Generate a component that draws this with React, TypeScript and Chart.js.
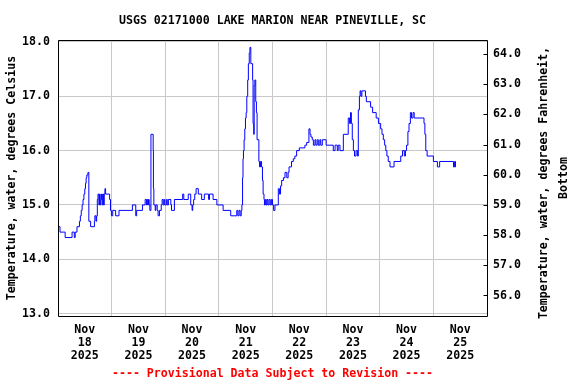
import { useEffect, useRef } from 'react';
import { Chart, registerables } from 'chart.js';

Chart.register(...registerables);

const TITLE = 'USGS 02171000 LAKE MARION NEAR PINEVILLE, SC';
const LEFT_TITLE = 'Temperature, water, degrees Celsius';
const RIGHT_TITLE = ['Temperature, water, degrees Fahrenheit,', 'Bottom'];
const CAPTION = '---- Provisional Data Subject to Revision ----';

const MONTH = 'Nov';
const YEAR = '2025';
const dayLabels = ['18', '19', '20', '21', '22', '23', '24', '25'];

// hours since Nov 18 00:00, value in deg C (value holds until next point)
const hours = [
  0, 0.9, 3.2, 6.3, 7.3, 7.7, 8.5, 9.6, 10.0, 10.4, 10.8, 11.2, 11.6, 12.0, 12.3, 12.6, 12.9, 13.4, 13.8,
  14.6, 16.3, 16.5, 17.0, 17.3, 17.6, 17.9, 18.3, 18.6, 18.9, 19.2, 19.5, 19.8, 20.1, 20.4, 20.7, 21.0, 21.3,
  23.1, 23.5, 23.9, 24.5, 25.8, 27.3, 33.3, 34.8, 35.2, 37.8, 39.0, 39.6, 39.9, 40.2, 40.5, 40.8, 41.1, 41.6,
  42.6, 42.7, 42.9, 43.5, 43.8, 44.4, 44.8, 45.4, 46.2, 46.6, 47.1, 47.5, 47.8, 48.5, 48.9, 49.4, 50.5, 50.8,
  52.1, 55.8, 56.3, 58.3, 59.4, 60.0, 60.3, 60.7, 61.2, 61.8, 62.8, 64.3, 65.5, 67.4, 67.8, 69.4, 71.1, 73.9,
  77.3, 80.0, 80.5, 81.0, 81.5, 82.0, 82.3, 82.6, 82.8, 83.0, 83.3, 83.6, 83.9, 84.2, 84.5, 84.9, 85.2, 85.6,
  85.9, 86.3, 87.1, 87.3, 87.6, 87.8, 88.1, 88.5, 88.8, 89.1, 89.9, 90.2, 90.6, 91.1, 91.5, 91.8, 92.2, 92.4,
  92.8, 93.2, 93.6, 94.0, 94.5, 95.0, 95.5, 96.0, 96.5, 97.1, 98.6, 99.1, 99.6, 100.1, 100.9, 101.6, 102.4,
  103.0, 103.4, 104.5, 105.3, 106.0, 106.8, 108.0, 110.5, 111.3, 112.3, 112.8, 113.2, 113.8, 114.3, 115.0,
  115.4, 116.0, 116.5, 117.2, 117.6, 118.3, 120.0, 123.2, 124.0, 125.0, 125.4, 126.2, 127.7, 129.9, 130.5,
  130.9, 131.3, 131.7, 132.2, 132.7, 133.4, 134.0, 134.4, 134.9, 135.2, 135.6, 136.0, 137.6, 138.0, 139.9,
  140.8, 142.4, 143.4, 144.4, 145.0, 145.6, 146.2, 146.7, 147.2, 147.8, 148.6, 150.4, 153.4, 154.2, 155.0,
  155.5, 156.0, 156.6, 157.1, 157.7, 158.2, 158.9, 159.4, 163.8, 164.2, 164.6, 165.2, 168.0, 169.8, 170.8,
  177.0, 177.5, 177.9, 178.1,
];

const tempC = [
  14.7, 14.6, 14.5, 14.4, 14.5, 14.4, 14.5, 14.6, 14.7, 14.8, 14.9, 15.0, 15.1, 15.2, 15.3, 15.4, 15.5, 15.55, 15.6,
  14.7, 14.6, 14.7, 14.8, 14.7, 14.8, 15.1, 15.2, 15.0, 15.2, 15.0, 15.1, 15.2, 15.0, 15.2, 15.0, 15.2, 15.3,
  15.2, 15.1, 14.9, 14.8, 14.9, 14.8, 14.9, 15.0, 14.8, 14.9, 15.0, 15.1, 15.0, 15.1, 15.0, 15.1, 15.0, 14.9,
  16.3, 16.0, 15.3, 15.0, 14.9, 15.0, 14.9, 14.8, 14.9, 15.0, 15.1, 15.0, 15.1, 15.0, 15.1, 15.0, 15.1, 15.0,
  14.9, 15.1, 15.2, 15.1, 15.2, 15.0, 14.9, 15.0, 15.1, 15.2, 15.3, 15.2, 15.1, 15.2, 15.1, 15.2, 15.1, 15.0,
  14.9, 14.8, 14.9, 14.8, 14.9, 14.8, 14.9, 15.0, 15.5, 15.85, 16.0, 16.2, 16.4, 16.6, 16.7, 17.0, 17.3, 17.6,
  17.8, 17.9, 17.6, 17.3, 16.5, 16.3, 17.2, 17.3, 16.9, 16.7, 16.2, 15.8, 15.7, 15.8, 15.7, 15.45, 15.2, 15.1,
  15.0, 15.1, 15.0, 15.1, 15.0, 15.1, 15.0, 15.1, 15.0, 14.9, 15.0, 15.3, 15.2, 15.35, 15.45, 15.5, 15.6,
  15.5, 15.6, 15.7, 15.8, 15.85, 15.9, 16.0, 16.05, 16.1, 16.15, 16.4, 16.3, 16.25, 16.2, 16.1,
  16.2, 16.1, 16.2, 16.1, 16.2, 16.1, 16.2, 16.1, 16.0, 16.1, 16.0, 16.1, 16.0, 16.3, 16.6,
  16.5, 16.7, 16.5, 16.2, 16.0, 15.9, 16.0, 15.9, 16.75, 17.0, 17.1, 17.0, 17.1, 17.0, 16.9,
  16.8, 16.7, 16.6, 16.5, 16.4, 16.3, 16.2, 16.1, 16.0, 15.9, 15.8, 15.7, 15.8, 15.9, 16.0,
  15.9, 16.0, 16.1, 16.35, 16.5, 16.7, 16.6, 16.7, 16.6, 16.5, 16.3, 16.0, 15.9, 15.8, 15.7,
  15.8, 15.7, 15.8, 15.7,
];

const xTickHours = [0, 12, 24, 36, 48, 60, 72, 84, 96, 108, 120, 132, 144, 156, 168, 180, 192];
const cTicks = [13, 14, 15, 16, 17, 18];
const fTicks = [56, 57, 58, 59, 60, 61, 62, 63, 64];
const Y_MIN_C = 12.956;
const Y_MAX_C = 18.036;
const X_MAX_H = 192;

const c2f = (c: number) => c * 1.8 + 32;

const FONT_FAMILY = '"DejaVu Sans Mono", monospace';
const FONT = { family: FONT_FAMILY, size: 11.6, weight: 'bold' as const, lineHeight: 1.12 };
const GRID = '#c8c8c8';

const framePlugin = {
  id: 'frameAndRightTitle',
  afterDraw(chart: any) {
    const { ctx, chartArea: a, scales } = chart;
    ctx.save();
    ctx.strokeStyle = '#000';
    ctx.lineWidth = 1;
    const L = Math.round(a.left) + 0.5;
    const R = Math.round(a.right) + 0.5;
    const T = Math.round(a.top) + 0.5;
    const B = Math.round(a.bottom) + 0.5;
    ctx.beginPath();
    ctx.moveTo(L, T);
    ctx.lineTo(R, T);
    ctx.lineTo(R, B);
    ctx.lineTo(L, B);
    ctx.closePath();
    ctx.stroke();
    // inward tick marks of the Fahrenheit axis
    const y2 = scales.y2;
    ctx.beginPath();
    for (const v of fTicks) {
      const py = Math.round(y2.getPixelForValue(v)) + 0.5;
      ctx.moveTo(R - 4, py);
      ctx.lineTo(R, py);
    }
    ctx.stroke();
    // right axis title, reading bottom to top
    ctx.fillStyle = '#000';
    ctx.font = `bold ${FONT.size}px ${FONT_FAMILY}`;
    ctx.textAlign = 'center';
    ctx.textBaseline = 'middle';
    const centers = [[543.5, 183], [564, 178]];
    RIGHT_TITLE.forEach((line, i) => {
      ctx.save();
      ctx.translate(centers[i][0], centers[i][1]);
      ctx.rotate(-Math.PI / 2);
      ctx.fillText(line, 0, 0);
      ctx.restore();
    });
    ctx.restore();
  },
};

export default function App() {
  const ref = useRef<HTMLCanvasElement | null>(null);

  useEffect(() => {
    if (!ref.current) return;
    const chart = new Chart(ref.current, {
      type: 'line',
      data: {
        datasets: [
          {
            data: hours.map((h, i) => ({ x: h, y: tempC[i] })),
            borderColor: '#0000ff',
            borderWidth: 1,
            pointRadius: 0,
            stepped: 'after',
            fill: false,
            xAxisID: 'x',
            yAxisID: 'y',
          },
        ],
      },
      options: {
        animation: false,
        responsive: false,
        devicePixelRatio: 1,
        layout: { padding: 0 },
        events: [],
        plugins: {
          legend: { display: false },
          tooltip: { enabled: false },
          title: {
            display: true,
            text: TITLE,
            fullSize: false,
            color: '#000',
            font: FONT,
            padding: { top: 14, bottom: 13 },
          },
        },
        scales: {
          x: {
            type: 'linear',
            position: 'bottom',
            min: 0,
            max: X_MAX_H,
            afterBuildTicks: (s: any) => {
              s.ticks = xTickHours.map((v) => ({ value: v }));
            },
            afterFit: (s: any) => {
              s.height = 68;
            },
            ticks: {
              autoSkip: false,
              maxRotation: 0,
              minRotation: 0,
              padding: 7.5,
              color: '#000',
              font: FONT,
              callback: (v: any) => {
                const n = Number(v);
                if (n % 24 !== 12) return '';
                return [MONTH, dayLabels[(n - 12) / 24], YEAR];
              },
            },
            grid: {
              color: (c: any) => (c.tick && c.tick.value % 24 === 0 ? GRID : 'rgba(0,0,0,0)'),
              drawTicks: false,
              lineWidth: 1,
            },
            border: { display: false },
            title: {
              display: true,
              text: CAPTION,
              color: '#ff0000',
              font: FONT,
              padding: { top: 0, bottom: 3.5 },
            },
          },
          y: {
            type: 'linear',
            position: 'left',
            min: Y_MIN_C,
            max: Y_MAX_C,
            afterBuildTicks: (s: any) => {
              s.ticks = cTicks.map((v) => ({ value: v }));
            },
            afterFit: (s: any) => {
              s.width = 58;
            },
            ticks: {
              padding: 8,
              color: '#000',
              font: FONT,
              callback: (v: any) => Number(v).toFixed(1),
            },
            grid: { color: GRID, drawTicks: false, lineWidth: 1 },
            border: { display: false },
            title: {
              display: true,
              text: LEFT_TITLE,
              color: '#000',
              font: FONT,
              padding: { top: 5, bottom: 0 },
            },
          },
          y2: {
            type: 'linear',
            position: 'right',
            min: c2f(Y_MIN_C),
            max: c2f(Y_MAX_C),
            afterBuildTicks: (s: any) => {
              s.ticks = fTicks.map((v) => ({ value: v }));
            },
            afterFit: (s: any) => {
              s.width = 89;
            },
            ticks: {
              padding: 6,
              color: '#000',
              font: FONT,
              callback: (v: any) => Number(v).toFixed(1),
            },
            grid: { display: false, drawTicks: false },
            border: { display: false },
          },
        },
      },
      plugins: [framePlugin],
    } as any);
    return () => chart.destroy();
  }, []);

  return (
    <div style={{ position: 'absolute', left: 0, top: 0, width: 576, height: 384, background: '#fff' }}>
      <canvas ref={ref} width={576} height={384} style={{ display: 'block' }} />
    </div>
  );
}
